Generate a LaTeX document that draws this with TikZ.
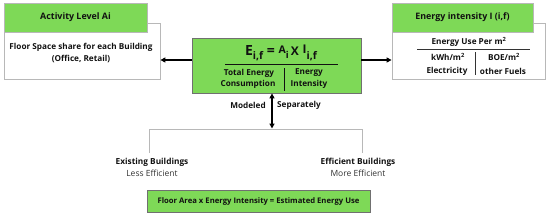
\documentclass[tikz,border=0pt]{standalone}
\usepackage{fontspec}
\setmainfont{Open Sans}
\usetikzlibrary{arrows.meta}
\definecolor{grn}{HTML}{7ED957}
\definecolor{bordgray}{HTML}{B8B8B8}
\definecolor{darkbord}{HTML}{707070}
\definecolor{txt}{HTML}{111111}
\definecolor{softtxt}{HTML}{333333}
\begin{document}
\begin{tikzpicture}[x=1pt,y=-1pt,
  whitebox/.style={draw=bordgray,line width=0.8pt,fill=white,inner sep=0pt},
  headbox/.style={draw=bordgray,line width=0.6pt,fill=grn,inner sep=0pt,font=\fontsize{8.9}{10}\selectfont\bfseries,text=txt},
  lbl/.style={inner sep=0pt,font=\fontsize{8.2}{9.5}\selectfont\bfseries,text=txt,align=center},
  soft/.style={inner sep=0pt,font=\fontsize{8.5}{9.5}\selectfont,text=softtxt,align=center},
  arr/.style={-{Triangle[length=5pt,width=5pt]},line width=1.3pt,black},
  dbl/.style={{Triangle[length=5pt,width=5pt]}-{Triangle[length=5pt,width=5pt]},line width=1.3pt,black},
  thin/.style={draw=bordgray,line width=0.8pt}]
\useasboundingbox (0,0) rectangle (550,217);
% left box
\node[whitebox,minimum width=156pt,minimum height=56pt] (lbox) at (82,51) {};
\node[headbox,minimum width=143pt,minimum height=29pt] (lhead) at (75.5,17.5) {Activity Level Ai};
\node[lbl] (lt1) at (81,47) {Floor Space share for each Building};
\node[lbl] (lt2) at (81,59) {(Office, Retail)};
% right box
\node[whitebox,minimum width=153pt,minimum height=56pt] (rbox) at (468.5,51) {};
\node[headbox,minimum width=141pt,minimum height=29pt] (rhead) at (462.5,17.5) {Energy intensity I (i,f)};
\node[lbl] (rt1) at (469,42) {Energy Use Per m\textsuperscript{2}};
\coordinate (rl1) at (417,49); \coordinate (rl2) at (530,49);
\draw[draw=softtxt,line width=0.5pt] (rl1) -- (rl2);
\coordinate (rd1) at (475,52); \coordinate (rd2) at (475,75);
\draw[draw=softtxt,line width=0.5pt] (rd1) -- (rd2);
\node[lbl] (rk) at (448,57) {kWh/m\textsuperscript{2}};
\node[lbl] (re) at (447,71) {Electricity};
\node[lbl] (rb) at (504,57) {BOE/m\textsuperscript{2}};
\node[lbl] (ro) at (503,71) {other Fuels};
% center box
\node[draw=darkbord,line width=0.8pt,fill=grn,minimum width=169pt,minimum height=55pt,inner sep=0pt] (cbox) at (276.5,65.5) {};
\node[inner sep=0pt,text=txt,font=\bfseries] (formula) at (281,53) {\fontsize{14}{14}\selectfont E\raisebox{-3.5pt}{\fontsize{10.5}{10.5}\selectfont i,f} = \raisebox{2pt}{\fontsize{10.5}{10.5}\selectfont A}\raisebox{-2.5pt}{\fontsize{9.5}{9.5}\selectfont i}\,{\fontsize{12}{12}\selectfont X} \raisebox{2pt}{\fontsize{12}{12}\selectfont I}\raisebox{-3.5pt}{\fontsize{10.5}{10.5}\selectfont i,f}};
\coordinate (cl1) at (225,64); \coordinate (cl2) at (338,64);
\draw[draw=txt,line width=0.5pt] (cl1) -- (cl2);
\coordinate (cd1) at (284,68); \coordinate (cd2) at (284,91);
\draw[draw=txt,line width=0.5pt] (cd1) -- (cd2);
\node[lbl] (ct1) at (249,73) {Total Energy};
\node[lbl] (ct2) at (248,84) {Consumption};
\node[lbl] (ci1) at (309,73) {Energy};
\node[lbl] (ci2) at (309,84) {Intensity};
% arrows
\draw[arr] (cbox.west |- 0,60) -- (lbox.east |- 0,60);
\draw[arr] (cbox.east |- 0,60) -- (rbox.west |- 0,60);
\coordinate (split) at (272,128.5);
\draw[dbl] ([xshift=-4.5pt]cbox.south) -- (split);
\node[lbl] (mod) at (248,105) {Modeled};
\node[lbl] (sep) at (299,105) {Separately};
% bracket
\coordinate (bl) at (149,153); \coordinate (brr) at (362,153);
\draw[thin] (bl) -- ++(0,-24) -| (brr);
\node[lbl,font=\fontsize{8.3}{9.5}\selectfont\bfseries] (ex) at (152,162) {Existing Buildings};
\node[soft] (exs) at (152,173.5) {Less Efficient};
\node[lbl,font=\fontsize{8.3}{9.5}\selectfont\bfseries] (ef) at (358,162) {Efficient Buildings};
\node[soft] (efs) at (358,173.5) {More Efficient};
% bottom box
\node[draw=darkbord,line width=0.7pt,fill=grn,minimum width=223pt,minimum height=22pt,inner sep=0pt,font=\fontsize{7.7}{8.5}\selectfont\bfseries,text=txt] (bot) at (258.5,201) {Floor Area x Energy Intensity = Estimated Energy Use};
\end{tikzpicture}
\end{document}
